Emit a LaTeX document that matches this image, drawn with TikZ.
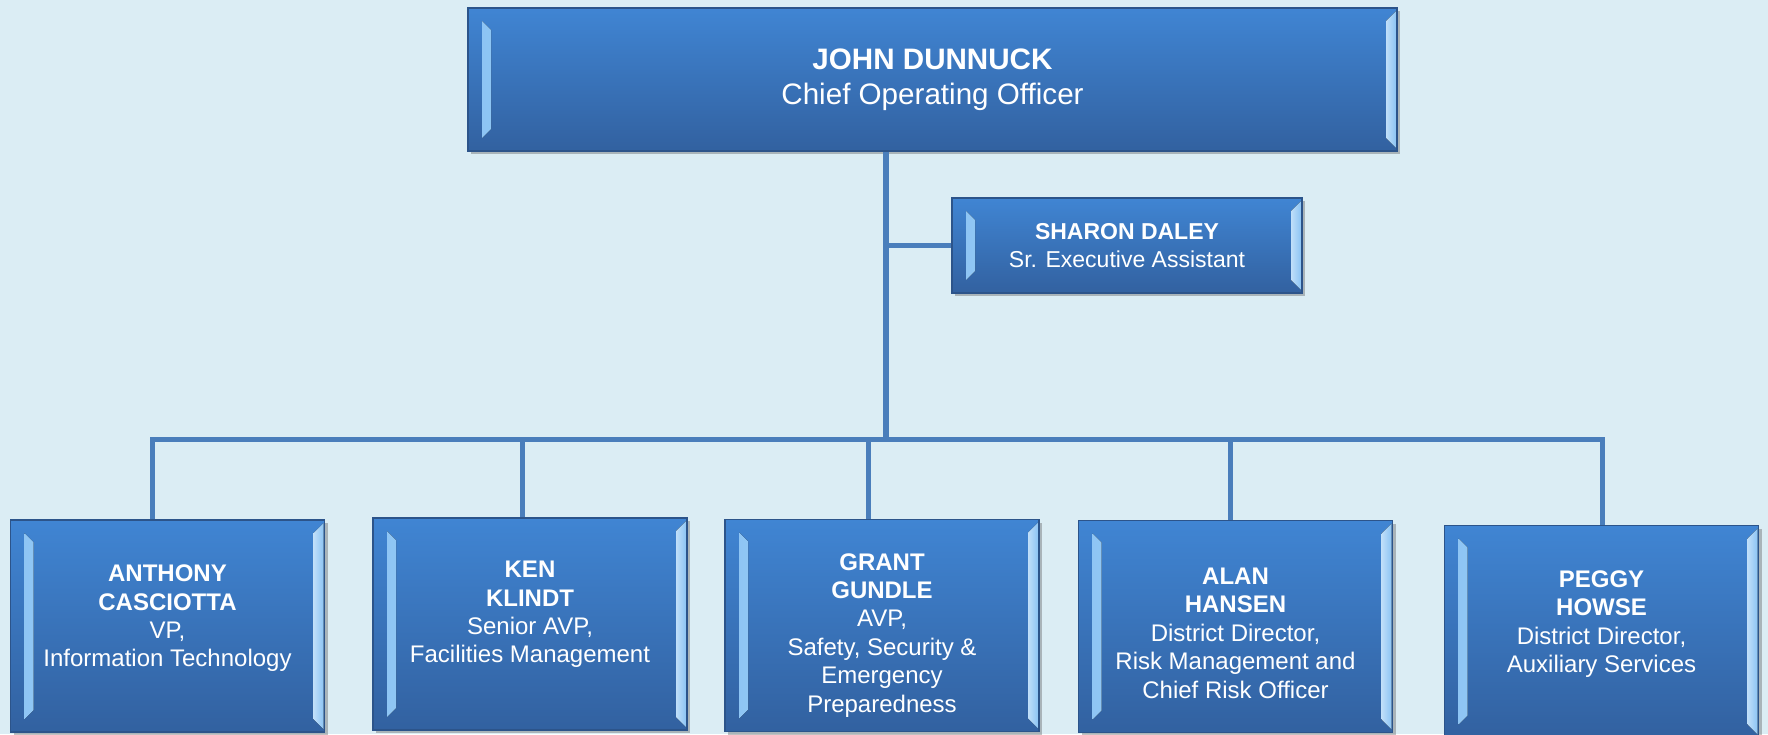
\documentclass[tikz,border=0pt]{standalone}
\usepackage{fontspec}
\setmainfont{Liberation Sans}
\usetikzlibrary{shadows}

\definecolor{backblue}{RGB}{219,237,244}
\definecolor{linkblue}{RGB}{74,126,187}
\definecolor{boxtop}{RGB}{64,133,211}
\definecolor{boxbot}{RGB}{50,97,160}
\definecolor{boxedge}{RGB}{44,84,138}
\definecolor{bevel}{RGB}{140,196,244}

% extra room above the first line of a box
\newcommand{\topgap}[1]{\rule{0pt}{#1}}

\tikzset{
  person/.style={draw=boxedge, line width=0.6pt, top color=boxtop, bottom color=boxbot,
    text=white, align=center, inner sep=0pt,
    drop shadow={shadow xshift=1.5pt, shadow yshift=-1.5pt, opacity=0.35, fill=black!70},
    path picture={
      \fill[left color=bevel, right color=bevel!55!white]
        ([shift={(7pt,-6.5pt)}]path picture bounding box.north west)
        -- ([shift={(11.5pt,-11pt)}]path picture bounding box.north west)
        -- ([shift={(11.5pt,11pt)}]path picture bounding box.south west)
        -- ([shift={(7pt,6.5pt)}]path picture bounding box.south west) -- cycle;
      \fill[left color=bevel!55!white, right color=bevel]
        ([shift={(-0.5pt,-1.5pt)}]path picture bounding box.north east)
        -- ([shift={(-5.5pt,-6.5pt)}]path picture bounding box.north east)
        -- ([shift={(-5.5pt,6.5pt)}]path picture bounding box.south east)
        -- ([shift={(-0.5pt,1.5pt)}]path picture bounding box.south east) -- cycle;
    }},
  chief/.style={person, minimum width=464.5pt, minimum height=71.5pt,
    font=\fontsize{14.8}{17.5}\selectfont},
  assist/.style={person, minimum width=175pt, minimum height=47.5pt,
    font=\fontsize{11.5}{14}\selectfont},
  report/.style={person, minimum width=157pt, minimum height=106pt,
    font=\fontsize{12}{14.2}\selectfont},
  % nudge the text block up inside a box
  liftup/.style={execute at end node={\rule[-#1]{0pt}{0pt}}},
  link/.style={linkblue, line width=2.5pt},
  trunk/.style={linkblue, line width=3pt}
}

\begin{document}
\begin{tikzpicture}[x=0.5pt, y=-0.5pt]
  \fill[backblue] (0,0) rectangle (1768,734);
  \useasboundingbox (0,0) rectangle (1768,734);

% boxes
  \node[chief] (coo) at (932.5,79.5) {\textbf{JOHN DUNNUCK}\\Chief Operating Officer};
  \node[assist] (daley) at (1127,245.5) {\textbf{SHARON DALEY}\\Sr. Executive Assistant};

  \node[report, liftup=10pt] (casciotta) at (167.5,626) {\textbf{ANTHONY}\\\textbf{CASCIOTTA}\\VP,\\Information Technology};
  \node[report, liftup=12pt] (klindt) at (530,624) {\textbf{KEN}\\\textbf{KLINDT}\\Senior AVP,\\Facilities Management};
  \node[report] (gundle) at (882,625.5) {\topgap{18pt}\textbf{GRANT}\\\textbf{GUNDLE}\\AVP,\\Safety, Security \&\\Emergency\\Preparedness};
  \node[report] (hansen) at (1235.5,626.5) {\topgap{15pt}\textbf{ALAN}\\\textbf{HANSEN}\\District Director,\\Risk Management and\\Chief Risk Officer};
  \node[report, liftup=10pt] (howse) at (1601.5,631.5) {\textbf{PEGGY}\\\textbf{HOWSE}\\District Director,\\Auxiliary Services};

% lines
  \coordinate (fork) at (886,439);
  \coordinate (tee) at (886,245.5);
  \draw[trunk] (coo.south -| fork) -- (fork);
  \draw[link] (tee) -- (daley.west);

  \foreach \n/\x in {casciotta/152, klindt/522, gundle/868, hansen/1230, howse/1602}
    \coordinate (d-\n) at (\x,439);
  \draw[link] (d-casciotta |- casciotta.north) -- (d-casciotta) -- (d-howse) -- (d-howse |- howse.north);
  \foreach \n in {klindt, gundle, hansen}
    \draw[link] (d-\n) -- (d-\n |- \n.north);

\end{tikzpicture}
\end{document}
